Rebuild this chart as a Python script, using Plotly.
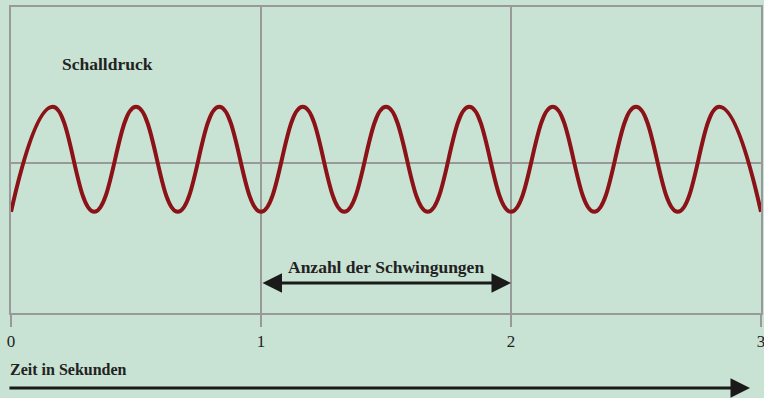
import plotly.graph_objects as go

# Extremwerte der Schallwelle: 3 Schwingungen pro Sekunde
zeit = [0, 0.167, 0.333, 0.5, 0.667, 0.833, 1.0, 1.167, 1.333, 1.5,
        1.667, 1.833, 2.0, 2.167, 2.333, 2.5, 2.667, 2.833, 3.0]
druck = [-0.93, 1.07, -0.93, 1.07, -0.93, 1.07, -0.93, 1.07, -0.93, 1.07,
         -0.93, 1.07, -0.93, 1.07, -0.93, 1.07, -0.93, 1.07, -0.93]
tick_werte = [0, 1, 2, 3]
tick_texte = ["0", "1", "2", "3"]

BG = "#c8e3d4"
GRID = "#999999"
SERIF = "Liberation Serif"


def create_plot():
    fig = go.Figure()
    fig.add_trace(go.Scatter(
        x=zeit, y=druck, mode="lines",
        line=dict(color="#8b1216", width=4, shape="spline", smoothing=1.3),
        hoverinfo="skip", showlegend=False,
    ))

    fig.update_layout(
        width=764, height=398,
        margin=dict(l=11, r=3, t=7, b=85),
        paper_bgcolor=BG, plot_bgcolor=BG,
        showlegend=False,
        xaxis=dict(
            range=[0, 3], tickvals=tick_werte, ticktext=tick_texte,
            automargin=False, ticklabeloverflow="allow",
            showgrid=True, gridcolor=GRID, gridwidth=2,
            zeroline=False, showline=True, linecolor=GRID, linewidth=2, mirror=True,
            ticks="outside", ticklen=12, tickwidth=2, tickcolor=GRID,
            tickfont=dict(family=SERIF, size=17, color="#222222"),
        ),
        yaxis=dict(
            range=[-2.857, 2.971], showticklabels=False, showgrid=False, automargin=False,
            zeroline=True, zerolinecolor=GRID, zerolinewidth=2,
            showline=True, linecolor=GRID, linewidth=2, mirror=True,
        ),
    )

    bold = dict(family=SERIF, size=17.5, color="#222222")
    fig.add_annotation(x=0.196, y=1.886, xref="x", yref="y", text="<b>Schalldruck</b>",
                       showarrow=False, xanchor="left", yanchor="middle", font=bold)
    fig.add_annotation(x=1.5, y=-1.98, xref="x", yref="y", text="<b>Anzahl der Schwingungen</b>",
                       showarrow=False, xanchor="center", yanchor="middle", font=bold)
    # Doppelpfeil zwischen 1 und 2 Sekunden
    fig.add_annotation(x=2, y=-2.286, ax=1, ay=-2.286, xref="x", yref="y",
                       axref="x", ayref="y", text="", showarrow=True,
                       arrowhead=2, arrowside="end+start", arrowsize=1.3,
                       arrowwidth=3, arrowcolor="#1a1a1a")

    fig.add_annotation(x=-0.004, y=-0.186, xref="paper", yref="paper",
                       text="<b>Zeit in Sekunden</b>", showarrow=False,
                       xanchor="left", yanchor="middle",
                       font=dict(family=SERIF, size=16, color="#222222"))
    # Zeitpfeil unter der Achse
    fig.add_annotation(x=0.9853, y=-0.245, xref="paper", yref="paper",
                       ax=-742, ay=0, axref="pixel", ayref="pixel", text="",
                       showarrow=True, arrowhead=2, arrowsize=1.3,
                       arrowwidth=3, arrowcolor="#1a1a1a")
    return fig


if __name__ == "__main__":
    fig = create_plot()
    # Seitenrand des Browsers entfernen, damit die Grafik bündig sitzt
    fig.write_html("out.html", config={"displayModeBar": False},
                   post_script="document.body.style.margin='0';")
